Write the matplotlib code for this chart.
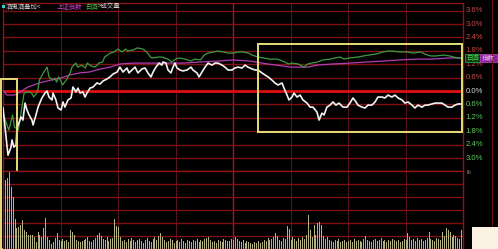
import matplotlib
matplotlib.use('Agg')
import matplotlib.pyplot as plt
from matplotlib.patches import Rectangle

plt.rcParams['font.family'] = ['Noto Sans CJK SC', 'DejaVu Sans']

# ---------------- data: (minute of session, percent change) ----------------
white_points = [
    (0, -0.76), (2.6, -2.87), (4.2, -2.51), (4.7, -2.19), (5.7, -2.51), (6.8, -2.42), (7.3, -1.66),
    (8.3, -1.43), (9.4, -1.16), (10.4, -1.30), (11.5, -0.54), (12.5, -0.85), (13.6, -1.07), (15.1, -1.30),
    (15.7, -1.52), (17.2, -1.07), (18.3, -0.72), (20.3, -0.31), (21.9, -0.09), (23.0, 0.0), (24.0, -0.27),
    (25.6, -0.40), (26.1, -0.09), (27.6, -0.40), (28.7, -0.76), (30.3, -0.85), (31.3, -0.49), (32.3, -0.72),
    (33.9, -0.40), (35.5, -0.31), (36.5, 0.18), (38.1, -0.04), (39.1, 0.13), (40.2, -0.09), (41.7, -0.04),
    (42.8, -0.27), (43.8, -0.09), (45.4, 0.13), (47.0, 0.18), (49.0, 0.36), (50.6, 0.31), (52.2, 0.45),
    (54.3, 0.54), (55.8, 0.63), (57.4, 0.76), (59.5, 0.85), (61.0, 1.07), (62.6, 0.85), (64.7, 1.03),
    (65.7, 0.81), (67.3, 0.94), (68.9, 1.07), (70.4, 0.81), (72.5, 0.99), (74.1, 1.03), (75.6, 0.81),
    (77.2, 0.63), (78.3, 0.85), (79.8, 1.07), (81.4, 1.25), (82.9, 1.16), (83.5, 1.30), (85.0, 1.25),
    (86.1, 0.94), (87.6, 0.81), (88.7, 1.07), (89.7, 1.25), (90.8, 1.03), (92.3, 0.94), (93.9, 0.90),
    (96.0, 0.94), (98.1, 1.07), (99.1, 0.94), (101.2, 0.81), (102.3, 0.63), (103.8, 0.85), (105.4, 1.07),
    (107.0, 1.25), (109.0, 1.16), (110.6, 1.25), (112.2, 1.25), (114.3, 1.16), (115.8, 1.07), (117.4, 0.94),
    (119.5, 0.94), (121.0, 1.03), (122.6, 1.07), (124.7, 1.03), (126.3, 1.16), (127.8, 1.07), (129.9, 0.99),
    (131.5, 0.94), (133.0, 0.94), (135.1, 0.81), (136.7, 0.72), (138.3, 0.63), (140.3, 0.49), (141.9, 0.36),
    (143.5, 0.27), (145.6, 0.36), (146.6, 0.13), (148.2, -0.18), (149.2, -0.40), (150.8, -0.27),
    (151.8, -0.09), (153.4, -0.27), (155.0, -0.18), (156.5, -0.40), (158.6, -0.54), (160.2, -0.72),
    (161.7, -0.72), (163.8, -0.94), (164.9, -1.30), (166.4, -0.99), (167.5, -1.07), (169.0, -0.72),
    (170.6, -0.63), (172.2, -0.49), (173.7, -0.63), (175.3, -0.54), (177.4, -0.72), (179.5, -0.72),
    (181.0, -0.54), (182.6, -0.31), (184.2, -0.49), (185.2, -0.63), (187.3, -0.72), (188.9, -0.76),
    (190.4, -0.63), (192.5, -0.63), (194.1, -0.49), (195.6, -0.27), (197.7, -0.27), (199.3, -0.31),
    (200.9, -0.18), (202.9, -0.27), (204.5, -0.18), (206.1, -0.31), (208.2, -0.40), (209.7, -0.54),
    (211.3, -0.49), (213.4, -0.63), (214.9, -0.76), (216.5, -0.63), (218.6, -0.72), (220.2, -0.63),
    (221.7, -0.63), (223.8, -0.58), (225.4, -0.54), (226.9, -0.54), (229.0, -0.54), (230.6, -0.63),
    (232.2, -0.72), (234.2, -0.72), (235.8, -0.63), (237.4, -0.58), (239.5, -0.58)]

green_points = [
    (0, -0.99), (3, -1.75), (5, -1.07), (6, -1.61), (8, -1.75), (11, -0.09), (13, -0.04), (15, -0.09),
    (16, -0.27), (18, -0.04), (19, 0.49), (21, 0.81), (22, 0.94), (23, 1.07), (24, 0.63), (26, 0.49),
    (27, 0.58), (28, 0.40), (29, 0.63), (30, 0.49), (31, 0.27), (33, 0.49), (35, 0.81), (36, 1.07),
    (38, 1.25), (39, 1.07), (41, 1.16), (43, 1.03), (44, 1.25), (46, 1.12), (48, 1.07), (50, 1.25),
    (52, 1.30), (53, 1.52), (56, 1.70), (58, 1.75), (60, 1.88), (62, 1.75), (64, 1.88), (65, 1.79),
    (68, 1.84), (70, 1.93), (73, 1.88), (75, 1.75), (77, 1.52), (78, 1.48), (81, 1.52), (83, 1.52),
    (86, 1.43), (88, 1.30), (90, 1.43), (92, 1.48), (95, 1.43), (98, 1.34), (100, 1.43), (103, 1.39),
    (105, 1.61), (107, 1.70), (110, 1.75), (112, 1.79), (115, 1.75), (117, 1.70), (120, 1.70), (123, 1.75),
    (125, 1.75), (128, 1.70), (130, 1.61), (133, 1.52), (136, 1.48), (139, 1.43), (143, 1.43), (146, 1.34),
    (149, 1.21), (151, 1.25), (154, 1.21), (157, 1.07), (159, 1.21), (161, 1.25), (164, 1.30), (167, 1.39),
    (171, 1.43), (173, 1.48), (176, 1.52), (178, 1.43), (181, 1.48), (185, 1.52), (188, 1.57), (191, 1.61),
    (195, 1.66), (198, 1.75), (201, 1.79), (203, 1.79), (207, 1.75), (211, 1.75), (214, 1.70), (218, 1.75),
    (220, 1.66), (223, 1.57), (226, 1.57), (230, 1.61), (233, 1.57), (237, 1.48), (239, 1.48)]

purple_points = [
    (0, 0.04), (2, -0.18), (6, -0.18), (9, -0.04), (13, 0.18), (16, 0.27), (19, 0.36), (25, 0.49),
    (30, 0.58), (35, 0.72), (40, 0.81), (45, 0.85), (51, 0.99), (56, 1.07), (61, 1.21), (68, 1.25),
    (77, 1.25), (86, 1.25), (94, 1.25), (103, 1.30), (112, 1.34), (120, 1.39), (129, 1.34), (138, 1.21),
    (146, 1.12), (150, 1.07), (155, 1.07), (159, 1.07), (164, 1.16), (172, 1.21), (181, 1.25), (190, 1.30),
    (198, 1.34), (207, 1.39), (216, 1.43), (224, 1.43), (233, 1.48), (239, 1.48)]

volume = [54, 69, 71, 78, 62, 52, 30, 21, 22, 24, 29, 19, 17, 14, 14, 14, 12, 7, 17, 14,
          12, 21, 31, 12, 9, 5, 7, 11, 16, 9, 8, 10, 8, 9, 7, 19, 17, 14, 9, 8,
          7, 8, 9, 10, 12, 8, 7, 9, 11, 14, 16, 13, 10, 9, 12, 8, 10, 11, 30, 23,
          22, 12, 8, 9, 7, 10, 8, 11, 9, 7, 9, 10, 8, 6, 9, 11, 8, 7, 10, 12,
          9, 13, 16, 12, 9, 7, 8, 10, 9, 6, 8, 9, 7, 10, 8, 6, 9, 8, 7, 9,
          8, 10, 7, 9, 8, 10, 11, 12, 9, 7, 8, 6, 9, 8, 7, 10, 9, 8, 8, 10,
          9, 12, 10, 8, 7, 9, 6, 8, 7, 6, 5, 7, 6, 8, 6, 7, 9, 8, 11, 9,
          10, 12, 16, 13, 9, 8, 11, 10, 23, 20, 9, 12, 10, 8, 11, 9, 12, 10, 14, 34,
          19, 12, 24, 14, 26, 27, 24, 13, 10, 12, 9, 8, 7, 9, 8, 10, 7, 8, 9, 7,
          8, 9, 7, 10, 8, 9, 8, 7, 10, 13, 9, 8, 7, 9, 10, 8, 9, 11, 8, 9,
          7, 9, 8, 10, 9, 8, 9, 7, 8, 10, 9, 16, 12, 9, 10, 8, 11, 9, 10, 8,
          9, 11, 17, 10, 9, 8, 11, 10, 9, 17, 13, 21, 19, 17, 12, 14, 13, 11, 10, 19]

pct_levels = [3.6, 3.0, 2.4, 1.8, 1.2, 0.6, 0.0, -0.6, -1.2, -1.8, -2.4, -3.0]
pct_labels = ['3.6%', '3.0%', '2.4%', '1.8%', '1.2%', '0.6%', '0.0%', '0.6%', '1.2%', '1.8%', '2.4%', '3.0%']
legend_items = ['酒鬼酒叠加<', '上证指数', '白酒', '>成交量']

# ---------------- figure ----------------
W, H = 498, 249
fig = plt.figure(figsize=(W / 100, H / 100), dpi=100, facecolor='black')


def px_axes(x0, y0, x1, y1):
    a = fig.add_axes([x0 / W, 1 - y1 / H, (x1 - x0) / W, (y1 - y0) / H])
    a.set_facecolor('black')
    a.set_xticks([])
    a.set_yticks([])
    for s in a.spines.values():
        s.set_color('#8c1414')
        s.set_linewidth(1.0)
    return a


ax = px_axes(3, 3, 463, 171)
axv = px_axes(3, 171, 463, 249)

GRID = '#7e1212'
VGRID = '#5c1420'
for a in (ax, axv):
    a.set_xlim(0, 240)
    for m in range(30, 240, 30):
        a.axvline(m, color=('#b01020' if m == 120 else VGRID), lw=(1.0 if m == 120 else 0.7), zorder=0)

ax.set_ylim(-3.58, 3.94)
for v in pct_levels:
    if v == 0.0:
        ax.axhline(v, color='#e00e0e', lw=2.0, zorder=1)
    else:
        ax.axhline(v, color=GRID, lw=1.0, zorder=0)

axv.set_ylim(0, 78)
for v in range(13, 78, 13):
    axv.axhline(v, color=GRID, lw=1.0, zorder=0)


def unzip(points):
    return [p[0] for p in points], [p[1] for p in points]


ax.plot(*unzip(purple_points), color='#b43cb4', lw=0.9, zorder=3)
ax.plot(*unzip(green_points), color='#3c9c40', lw=0.9, zorder=3)
ax.plot(*unzip(white_points), color='#f2f2f2', lw=1.2, zorder=4)

# volume bars
axv.bar(range(len(volume)), volume, width=0.55, color='#b4b482', align='edge', zorder=2)

# highlight rectangles (yellow)
ax.add_patch(Rectangle((-1.0, -7.05), 8.3, 7.6, fill=False, edgecolor='#e6dc78', lw=1.4,
                       clip_on=False, zorder=6))
ax.add_patch(Rectangle((133.0, -1.84), 106.5, 3.94, fill=False, edgecolor='#e6dc78', lw=1.4,
                       clip_on=False, zorder=6))

# right axis labels
for v, lab in zip(pct_levels, pct_labels):
    if v > 0:
        c = '#d04848'
    elif v == 0:
        c = '#dcdcdc'
    else:
        c = '#5cc85c'
    ax.text(1.005, v, lab, transform=ax.get_yaxis_transform(), ha='left', va='center',
            fontsize=5.6, color=c, family=['Liberation Sans', 'DejaVu Sans'], clip_on=False)

# right-edge tags
fig.add_artist(Rectangle((465 / W, 1 - 62 / H), 15 / W, 8 / H, transform=fig.transFigure,
                         facecolor='#0c3a10', edgecolor='#30a040', lw=0.6))
fig.text(472.5 / W, 1 - 58 / H, '白酒', color='#50d050', fontsize=4.6, ha='center', va='center')
fig.add_artist(Rectangle((480 / W, 1 - 62 / H), 17 / W, 8 / H, transform=fig.transFigure,
                         facecolor='#8c1c9c', edgecolor='#b040c0', lw=0.6))
fig.text(488.5 / W, 1 - 58 / H, '指数', color='#f0c0f0', fontsize=4.6, ha='center', va='center')

# far-right border line
fig.add_artist(plt.Line2D([492 / W, 492 / W], [1 - 226 / H, 1], transform=fig.transFigure,
                          color='#6a1010', lw=0.8))
fig.text(466 / W, 1 - 173 / H, 'lb', color='#808080', fontsize=4, ha='left', va='center',
         family=['DejaVu Sans'])

# bottom-right cream block
fig.add_artist(Rectangle((472 / W, 0), 26 / W, 22 / H, transform=fig.transFigure,
                         facecolor='#fbf2e4', edgecolor='none'))

# top legend
fig.add_artist(Rectangle((2 / W, 1 - 8 / H), 3 / W, 3 / H, transform=fig.transFigure,
                         facecolor='#30d0d0', edgecolor='none'))
leg_x = [6, 57, 85, 98]
leg_c = ['#c8c8c8', '#d040d0', '#40c040', '#d0d0d0']
for x, t, c in zip(leg_x, legend_items, leg_c):
    fig.text(x / W, 1 - 6.5 / H, t, color=c, fontsize=4.6, ha='left', va='center')

fig.savefig('out.png', dpi=100, facecolor='black')
